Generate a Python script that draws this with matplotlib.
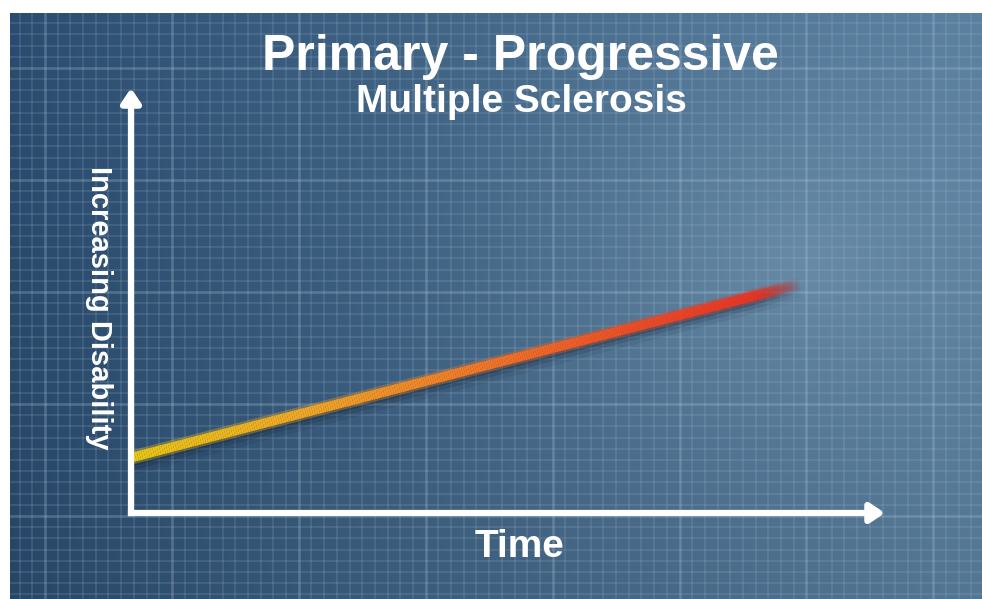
import numpy as np
import matplotlib
matplotlib.use('Agg')
import matplotlib.pyplot as plt
from matplotlib.collections import LineCollection
from matplotlib.colors import LinearSegmentedColormap, to_rgb
import matplotlib.transforms as mtransforms

# ---------------- data ----------------
title = "Primary - Progressive"
subtitle = "Multiple Sclerosis"
x_label = "Time"
y_label = "Increasing Disability"
time = [0.0, 8.9]
disability = [1.3, 5.4]
line_colors = ['#e8c614', '#f0a824', '#f27a26', '#ee4c24', '#e62a22']

# ---------------- figure ----------------
W, H = 982, 599
fig = plt.figure(figsize=(W / 100, H / 100), dpi=100)
fig.patch.set_facecolor('white')

# background panel with gradient and blueprint grid
bg = fig.add_axes([10 / W, 0, (W - 10) / W, (H - 13) / H])
bg.set_xlim(10, W)
bg.set_ylim(H, 13)
bg.axis('off')
xx, yy = np.meshgrid(np.linspace(0, 1, 400), np.linspace(0, 1, 250))
c_left = np.array(to_rgb('#29496b'))
c_right = np.array(to_rgb('#577b99'))
img = c_left + (c_right - c_left) * (xx ** 0.9)[..., None]
img = img * (1.04 - 0.08 * yy)[..., None]
glow = np.array(to_rgb('#6e90ab'))
dist = np.sqrt(((xx - 0.82) / 0.55) ** 2 + ((yy - 0.42) / 0.7) ** 2)
wgt = np.clip(1 - dist, 0, 1) ** 2 * 0.8
img = img * (1 - wgt[..., None]) + glow * wgt[..., None]
img = np.clip(img, 0, 1)
bg.imshow(img, extent=(10, W, H, 13), aspect='auto',
          interpolation='bilinear', zorder=0)

grid_col = '#a8c4dc'
dx, dy = 12.69, 11.2
for k in range(-3, 80):
    x = 45 + k * dx
    if 10 < x < W:
        major = (k % 10 == 0)
        bg.axvline(x, color=grid_col, lw=1.8 if major else 1.2,
                   alpha=0.3 if major else 0.18, zorder=1)
for k in range(-5, 60):
    y = 68 + k * dy
    if 13 < y < H:
        major = (k % 10 == 0)
        bg.axhline(y, color=grid_col, lw=1.8 if major else 1.2,
                   alpha=0.3 if major else 0.18, zorder=1)

# ---------------- main axes ----------------
ax = fig.add_axes([131 / W, (H - 513) / H, 754 / W, 425 / H])
ax.set_xlim(0, 10)
ax.set_ylim(0, 10)
ax.axis('off')
ax.patch.set_alpha(0)

# gradient line (subdivided only for colouring)
cmap = LinearSegmentedColormap.from_list('prog', line_colors)
n = 300
t = np.linspace(time[0], time[1], n + 1)
d = np.interp(t, time, disability)
pts = np.column_stack([t, d]).reshape(-1, 1, 2)
segs = np.concatenate([pts[:-1], pts[1:]], axis=1)
frac = np.linspace(0, 1, n)
fade = np.where(frac < 0.93, 1.0, np.clip((1 - frac) / 0.07, 0, 1))

# soft shadow under the line
for lw, a, off in [(16, 0.08, -6), (11, 0.14, -5), (7, 0.22, -4)]:
    tr = mtransforms.offset_copy(ax.transData, fig=fig, x=0, y=off, units='dots')
    sc = [(0.04, 0.09, 0.16, a * f) for f in fade]
    ax.add_collection(LineCollection(segs, colors=sc, linewidths=lw,
                                     capstyle='butt', transform=tr, zorder=2))

cols = [(*cmap(f)[:3], al) for f, al in zip(frac, fade)]
cols_glow = [(r, g, b, a * 0.35) for r, g, b, a in cols]
ax.add_collection(LineCollection(segs, colors=cols_glow, linewidths=10,
                                 capstyle='butt', zorder=3))
ax.add_collection(LineCollection(segs, colors=cols, linewidths=6.8,
                                 capstyle='butt', zorder=4))

# axes arrows
arrow_kw = dict(arrowstyle='-|>,head_length=0.36,head_width=0.24', color='white',
                lw=4.5, mutation_scale=24, shrinkA=0, shrinkB=0,
                capstyle='butt', joinstyle='round')
ax.annotate('', xy=(0, 1), xytext=(0, -0.0074), xycoords='axes fraction',
            arrowprops=arrow_kw, annotation_clip=False, zorder=5)
ax.annotate('', xy=(1, 0), xytext=(-0.0041, 0), xycoords='axes fraction',
            arrowprops=arrow_kw, annotation_clip=False, zorder=5)

# ---------------- texts ----------------
font = 'Liberation Sans'
fig.text(520 / W, 1 - 70 / H, title, ha='center', va='baseline', fontsize=36,
         fontweight='bold', color='white', family=font)
fig.text(521 / W, 1 - 112 / H, subtitle, ha='center', va='baseline', fontsize=28,
         fontweight='bold', color='white', family=font)
fig.text(520 / W, 1 - 557 / H, x_label, ha='center', va='baseline', fontsize=28,
         fontweight='bold', color='white', family=font)
fig.text(99 / W, 1 - 308 / H, y_label, ha='center', va='center', rotation=-90,
         fontsize=21, fontweight='bold', color='white', family=font)

fig.savefig('out.png', dpi=100, facecolor='white')
